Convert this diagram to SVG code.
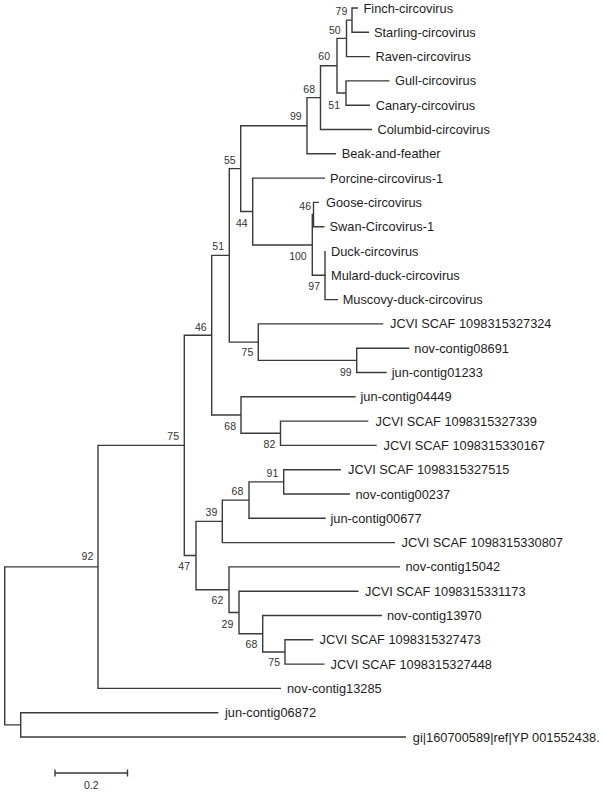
<svg xmlns="http://www.w3.org/2000/svg" width="603" height="792" viewBox="0 0 603 792">
<style>
.br{fill:none;stroke:#3a3a3a;stroke-width:1.4;stroke-linejoin:miter;stroke-linecap:butt}
.lf{font-family:"Liberation Sans",Arial,sans-serif;font-size:12.8px;fill:#1e1e1e}
.bs{font-family:"Liberation Sans",Arial,sans-serif;font-size:10.5px;fill:#333;text-anchor:end}
</style>
<rect width="603" height="792" fill="#fff"/>
<g id="connectors">
<path class="br" d="M358 8H352V32.3H369"/>
<path class="br" d="M352 20.15H346.5V56.6H370"/>
<path class="br" d="M389.5 80.9H346V105.2H370"/>
<path class="br" d="M346.5 38.38H337V93.05H346"/>
<path class="br" d="M337 65.71H320.5V129.5H372"/>
<path class="br" d="M320.5 97.61H307V153.8H336"/>
<path class="br" d="M319 202.4H313.5V226.7H324.5"/>
<path class="br" d="M325 251V299.6H338"/>
<path class="br" d="M313.5 214.55H312.3V275.3H326"/>
<path class="br" d="M325 178.1H252.7V244.93H312.3"/>
<path class="br" d="M307 125.7H240.7V211.5H252.7"/>
<path class="br" d="M409.3 348.2H356.7V372.5H386.7"/>
<path class="br" d="M383.3 323.9H258.3V360.35H356.7"/>
<path class="br" d="M240.7 168.6H229.3V342.13H258.3"/>
<path class="br" d="M368.3 421.1H280.5V445.4H376.7"/>
<path class="br" d="M355.7 396.8H241V433.25H280.5"/>
<path class="br" d="M229.3 255.37H211.7V415.03H241"/>
<path class="br" d="M341 469.7H283.7V494H350"/>
<path class="br" d="M283.7 481.85H249V518.3H325.7"/>
<path class="br" d="M249 500.08H222.3V542.6H395"/>
<path class="br" d="M313.3 639.8H285V664.1H324.5"/>
<path class="br" d="M382 615.5H262.7V651.95H285"/>
<path class="br" d="M358.5 591.2H239V633.73H262.7"/>
<path class="br" d="M400 566.9H229V612.46H239"/>
<path class="br" d="M222.3 521.34H196V589.68H229"/>
<path class="br" d="M211.7 335.2H184.3V555.51H196"/>
<path class="br" d="M184.3 445.36H98V688.4H281"/>
<path class="br" d="M218.4 712.7H20.7V737H406"/>
<path class="br" d="M98 566.88H4.7V724.85H20.7"/>
</g>
<g id="leaves">
<g id="leaf-finch"><text class="lf" x="363.5" y="12.5">Finch-circovirus</text></g>
<g id="leaf-starling"><text class="lf" x="374" y="36.8">Starling-circovirus</text></g>
<g id="leaf-raven"><text class="lf" x="375.5" y="61.1">Raven-circovirus</text></g>
<g id="leaf-gull"><text class="lf" x="395" y="85.4">Gull-circovirus</text></g>
<g id="leaf-canary"><text class="lf" x="375.7" y="109.7">Canary-circovirus</text></g>
<g id="leaf-columbid"><text class="lf" x="377.5" y="134">Columbid-circovirus</text></g>
<g id="leaf-beak"><text class="lf" x="341.7" y="158.3">Beak-and-feather</text></g>
<g id="leaf-porcine"><text class="lf" x="330" y="182.6">Porcine-circovirus-1</text></g>
<g id="leaf-goose"><text class="lf" x="326" y="206.9">Goose-circovirus</text></g>
<g id="leaf-swan"><text class="lf" x="329.5" y="231.2">Swan-Circovirus-1</text></g>
<g id="leaf-duck"><text class="lf" x="331" y="255.5">Duck-circovirus</text></g>
<g id="leaf-mulard"><text class="lf" x="331" y="279.8">Mulard-duck-circovirus</text></g>
<g id="leaf-muscovy"><text class="lf" x="342.7" y="304.1">Muscovy-duck-circovirus</text></g>
<g id="leaf-jcvi327324"><text class="lf" x="390" y="328.4">JCVI SCAF 1098315327324</text></g>
<g id="leaf-nov08691"><text class="lf" x="414.3" y="352.7">nov-contig08691</text></g>
<g id="leaf-jun01233"><text class="lf" x="391.7" y="377">jun-contig01233</text></g>
<g id="leaf-jun04449"><text class="lf" x="360.5" y="401.3">jun-contig04449</text></g>
<g id="leaf-jcvi327339"><text class="lf" x="375.5" y="425.6">JCVI SCAF 1098315327339</text></g>
<g id="leaf-jcvi330167"><text class="lf" x="383.5" y="449.9">JCVI SCAF 1098315330167</text></g>
<g id="leaf-jcvi327515"><text class="lf" x="348" y="474.2">JCVI SCAF 1098315327515</text></g>
<g id="leaf-nov00237"><text class="lf" x="355.5" y="498.5">nov-contig00237</text></g>
<g id="leaf-jun00677"><text class="lf" x="330.5" y="522.8">jun-contig00677</text></g>
<g id="leaf-jcvi330807"><text class="lf" x="401.5" y="547.1">JCVI SCAF 1098315330807</text></g>
<g id="leaf-nov15042"><text class="lf" x="405.5" y="571.4">nov-contig15042</text></g>
<g id="leaf-jcvi331173"><text class="lf" x="365" y="595.7">JCVI SCAF 1098315331173</text></g>
<g id="leaf-nov13970"><text class="lf" x="387" y="620">nov-contig13970</text></g>
<g id="leaf-jcvi327473"><text class="lf" x="319.5" y="644.3">JCVI SCAF 1098315327473</text></g>
<g id="leaf-jcvi327448"><text class="lf" x="330.5" y="668.6">JCVI SCAF 1098315327448</text></g>
<g id="leaf-nov13285"><text class="lf" x="287" y="692.9">nov-contig13285</text></g>
<g id="leaf-jun06872"><text class="lf" x="225" y="717.2">jun-contig06872</text></g>
<g id="leaf-gi"><text class="lf" x="412.8" y="741.5">gi|160700589|ref|YP 001552438.</text></g>
</g>
<g id="support">
<g id="node-79"><text class="bs" x="347.3" y="15.4">79</text></g>
<g id="node-50"><text class="bs" x="340.7" y="33.7">50</text></g>
<g id="node-60"><text class="bs" x="330" y="60.4">60</text></g>
<g id="node-68a"><text class="bs" x="315" y="93">68</text></g>
<g id="node-99a"><text class="bs" x="301.7" y="120.4">99</text></g>
<g id="node-51a"><text class="bs" x="340" y="109">51</text></g>
<g id="node-55"><text class="bs" x="235.7" y="163.7">55</text></g>
<g id="node-44"><text class="bs" x="247.7" y="227">44</text></g>
<g id="node-46a"><text class="bs" x="311" y="209.7">46</text></g>
<g id="node-100"><text class="bs" x="306.7" y="259.7">100</text></g>
<g id="node-97"><text class="bs" x="320" y="289.7">97</text></g>
<g id="node-51b"><text class="bs" x="224" y="250.4">51</text></g>
<g id="node-75a"><text class="bs" x="253.3" y="356.4">75</text></g>
<g id="node-99b"><text class="bs" x="351.7" y="375.7">99</text></g>
<g id="node-46b"><text class="bs" x="206.7" y="330.7">46</text></g>
<g id="node-68b"><text class="bs" x="236" y="429.7">68</text></g>
<g id="node-82"><text class="bs" x="275.3" y="448">82</text></g>
<g id="node-75b"><text class="bs" x="179" y="440.4">75</text></g>
<g id="node-92"><text class="bs" x="93.3" y="560.4">92</text></g>
<g id="node-47"><text class="bs" x="190" y="570.4">47</text></g>
<g id="node-39"><text class="bs" x="217.3" y="516">39</text></g>
<g id="node-68c"><text class="bs" x="243.3" y="494.7">68</text></g>
<g id="node-91"><text class="bs" x="278.3" y="477">91</text></g>
<g id="node-62"><text class="bs" x="223.3" y="604.4">62</text></g>
<g id="node-29"><text class="bs" x="233.3" y="627.7">29</text></g>
<g id="node-68d"><text class="bs" x="257.3" y="647.7">68</text></g>
<g id="node-75c"><text class="bs" x="280" y="666">75</text></g>
</g>
<g id="scale-bar">
<path class="br" d="M55 773H127.5M55 769.5V776.5M127.5 769.5V776.5"/>
<text class="bs" x="91.3" y="789" style="text-anchor:middle">0.2</text>
</g>
</svg>
